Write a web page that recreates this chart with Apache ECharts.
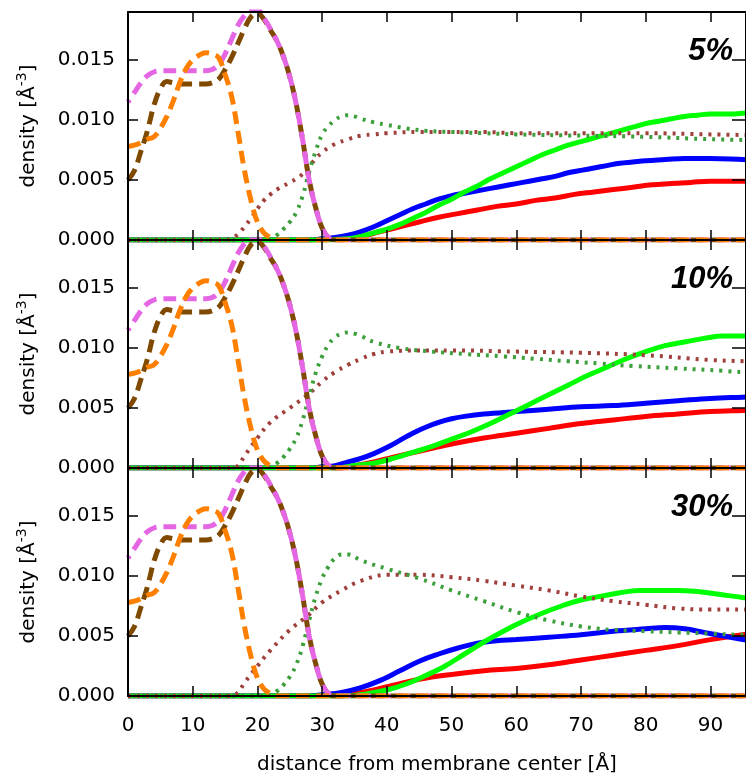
<!DOCTYPE html>
<html>
<head>
<meta charset="utf-8">
<script src="https://cdn.jsdelivr.net/npm/echarts@6/dist/echarts.min.js"></script>
<style>
  html, body { margin: 0; padding: 0; background: #ffffff; }
  #chart { width: 746px; height: 778px; }
</style>
</head>
<body>
<div id="chart"></div>
<script>
// ---- axis ranges and ticks ----
var X_MIN = 0, X_MAX = 95.5, X_STEP = 10;
var Y_MIN = 0, Y_MAX = 0.019, Y_STEP = 0.005;
var panelLabels = ['5%', '10%', '30%'];

// ---- lipid / membrane profiles (same in every panel) ----
var orangeDash = [[0,0.0078],[1,0.0079],[2,0.0081],[3,0.0084],[4,0.0086],[5,0.0093],[6,0.0103],[7,0.0116],[8,0.0131],[9,0.0143],[10,0.0150],[11,0.0154],[12,0.0156],[13,0.0155],[14,0.0152],[15,0.0138],[16,0.0120],[17,0.0090],[18,0.0058],[19,0.0033],[20,0.0015],[21,0.0006],[22,0.0002],[23,0],[40,0],[60,0],[80,0],[100,0]];
var brownDash = [[0,0.0050],[1,0.0058],[2,0.0074],[3,0.0091],[4,0.0112],[5,0.0126],[6,0.0132],[7,0.0131],[8,0.0130],[10,0.0130],[12,0.0130],[13,0.0131],[14,0.0134],[15,0.0142],[16,0.0152],[17,0.0164],[18,0.0176],[19,0.0186],[20,0.0189],[21,0.0184],[22,0.0175],[23,0.0166],[24,0.0153],[25,0.0136],[26,0.0113],[27,0.0083],[28,0.0050],[29,0.0027],[30,0.0010],[31,0.0002],[32,0],[50,0],[70,0],[100,0]];
var pinkDash = [[0,0.0115],[1,0.0123],[2,0.0131],[3,0.0137],[4,0.0140],[5,0.0141],[6,0.0141],[8,0.0141],[10,0.0141],[12,0.0141],[13,0.0142],[14,0.0146],[15,0.0155],[16,0.0167],[17,0.0179],[18,0.0187],[19,0.0192],[20,0.0192],[21,0.0185],[22,0.0176],[23,0.0166],[24,0.0153],[25,0.0136],[26,0.0113],[27,0.0083],[28,0.0050],[29,0.0027],[30,0.0010],[31,0.0002],[32,0],[50,0],[70,0],[100,0]];

// ---- 5% panel ----
var maroonDot5 = [[0,0],[15,0],[16,0.0001],[17,0.0005],[18,0.0011],[19,0.0018],[20,0.0026],[21,0.0033],[22,0.0038],[23,0.0042],[24,0.0045],[25,0.0048],[26,0.0051],[27,0.0055],[28,0.0061],[29,0.0068],[30,0.0073],[31,0.0077],[32,0.0080],[34,0.0084],[36,0.0087],[38,0.0088],[40,0.0089],[45,0.0090],[50,0.0090],[55,0.0090],[60,0.0089],[70,0.0089],[80,0.0089],[90,0.0088],[100,0.0087]];
var greenDot5 = [[0,0],[21,0],[22,0.0001],[23,0.0004],[24,0.0009],[25,0.0015],[26,0.0023],[27,0.0037],[28,0.0057],[29,0.0074],[30,0.0088],[31,0.0095],[32,0.0100],[33,0.0103],[34,0.0104],[35,0.0103],[36,0.0101],[38,0.0098],[40,0.0096],[43,0.0093],[46,0.0091],[50,0.0090],[55,0.0089],[60,0.0088],[70,0.0087],[80,0.0086],[90,0.0084],[100,0.0083]];
var blue5 = [[0,0],[28,0],[30,0.0001],[32,0.0002],[34,0.0004],[36,0.0007],[38,0.0011],[40,0.0016],[42,0.0021],[44,0.0026],[46,0.0030],[48,0.0034],[50,0.0037],[52,0.0039],[54,0.0041],[56,0.0043],[58,0.0045],[60,0.0047],[62,0.0049],[64,0.0051],[66,0.0053],[68,0.0056],[70,0.0058],[72,0.0060],[74,0.0062],[76,0.0064],[78,0.0065],[80,0.0066],[83,0.0067],[86,0.0068],[90,0.0068],[95,0.0067],[100,0.0066]];
var red5 = [[0,0],[30,0],[33,0.0001],[36,0.0003],[39,0.0007],[42,0.0011],[45,0.0015],[48,0.0019],[51,0.0022],[54,0.0025],[57,0.0028],[60,0.0030],[63,0.0033],[66,0.0035],[69,0.0038],[72,0.0040],[75,0.0042],[78,0.0044],[81,0.0046],[84,0.0047],[87,0.0048],[90,0.0049],[95,0.0049],[100,0.0049]];
var lime5 = [[0,0],[30,0],[32,0.00005],[34,0.0001],[36,0.0003],[38,0.0006],[40,0.0009],[42,0.0013],[44,0.0018],[46,0.0023],[48,0.0029],[50,0.0034],[52,0.0040],[54,0.0045],[56,0.0051],[58,0.0056],[60,0.0061],[62,0.0066],[64,0.0071],[66,0.0075],[68,0.0079],[70,0.0082],[72,0.0085],[74,0.0088],[76,0.0091],[78,0.0094],[80,0.0097],[82,0.0099],[84,0.0101],[86,0.0103],[88,0.0104],[90,0.0105],[93,0.0105],[96,0.0106],[100,0.0106]];

// ---- 10% panel ----
var maroonDot10 = [[0,0],[16,0],[17,0.0002],[18,0.0010],[20,0.0025],[22,0.0038],[25,0.0050],[28,0.0062],[30,0.0072],[32,0.0080],[34,0.0086],[36,0.0091],[38,0.0095],[40,0.0097],[45,0.0098],[50,0.0098],[60,0.0097],[70,0.0096],[80,0.0094],[90,0.0090],[95,0.0089],[100,0.0088]];
var greenDot10 = [[0,0],[21,0],[22,0.0001],[23,0.0004],[24,0.0009],[25,0.0016],[26,0.0025],[27,0.0040],[28,0.0060],[29,0.0079],[30,0.0093],[31,0.0103],[32,0.0109],[33,0.0112],[34,0.0113],[35,0.0112],[36,0.0110],[38,0.0105],[42,0.0100],[47,0.0097],[52,0.0095],[58,0.0093],[63,0.0091],[68,0.0089],[73,0.0087],[78,0.0085],[85,0.0083],[92,0.0081],[95,0.0080],[100,0.0080]];
var blue10 = [[0,0],[28,0],[30,0.0001],[32,0.0002],[34,0.0005],[36,0.0008],[38,0.0012],[40,0.0017],[42,0.0023],[44,0.0029],[46,0.0034],[48,0.0038],[50,0.0041],[52,0.0043],[55,0.0045],[60,0.0047],[65,0.0049],[70,0.0051],[75,0.0052],[80,0.0054],[85,0.0056],[90,0.0058],[95,0.0059],[100,0.0060]];
var red10 = [[0,0],[32,0],[35,0.0002],[38,0.0005],[41,0.0009],[45,0.0014],[50,0.0020],[55,0.0025],[60,0.0029],[65,0.0033],[70,0.0037],[75,0.0040],[80,0.0043],[85,0.0045],[90,0.0047],[95,0.0048],[100,0.0049]];
var lime10 = [[0,0],[32,0],[35,0.0002],[38,0.0004],[41,0.0008],[44,0.0013],[47,0.0018],[50,0.0024],[53,0.0030],[56,0.0037],[59,0.0045],[62,0.0053],[65,0.0061],[68,0.0069],[71,0.0077],[74,0.0084],[77,0.0091],[80,0.0097],[83,0.0102],[86,0.0105],[89,0.0108],[92,0.0110],[95,0.0110],[100,0.0111]];

// ---- 30% panel ----
var maroonDot30 = [[0,0],[16,0],[17,0.0003],[18,0.0011],[20,0.0025],[22,0.0038],[25,0.0055],[28,0.0068],[30,0.0078],[33,0.0088],[36,0.0096],[40,0.0101],[45,0.0101],[50,0.0099],[55,0.0096],[60,0.0092],[65,0.0088],[70,0.0083],[75,0.0079],[80,0.0076],[85,0.0073],[90,0.0072],[95,0.0072],[100,0.0072]];
var greenDot30 = [[0,0],[21,0],[22,0.0001],[23,0.0004],[24,0.0009],[25,0.0016],[26,0.0026],[27,0.0042],[28,0.0063],[29,0.0083],[30,0.0098],[31,0.0108],[32,0.0115],[33,0.0118],[34,0.0118],[36,0.0113],[40,0.0106],[45,0.0098],[50,0.0088],[55,0.0079],[60,0.0070],[65,0.0063],[70,0.0058],[75,0.0055],[80,0.0054],[85,0.0053],[90,0.0052],[95,0.0051],[100,0.0051]];
var blue30 = [[0,0],[28,0],[30,0.0001],[33,0.0003],[36,0.0007],[39,0.0013],[42,0.0021],[45,0.0029],[48,0.0035],[51,0.0040],[54,0.0044],[57,0.0046],[60,0.0047],[65,0.0049],[70,0.0051],[75,0.0054],[80,0.0056],[83,0.0057],[86,0.0056],[89,0.0053],[92,0.0050],[95,0.0047],[100,0.0044]];
var red30 = [[0,0],[32,0],[35,0.0002],[38,0.0005],[41,0.0009],[45,0.0014],[50,0.0018],[55,0.0021],[60,0.0023],[65,0.0026],[70,0.0030],[75,0.0034],[80,0.0038],[85,0.0042],[90,0.0047],[95,0.0051],[100,0.0054]];
var lime30 = [[0,0],[34,0],[37,0.0002],[40,0.0005],[43,0.0010],[46,0.0017],[49,0.0025],[52,0.0035],[55,0.0045],[58,0.0054],[61,0.0062],[64,0.0069],[67,0.0075],[70,0.0080],[73,0.0083],[76,0.0086],[79,0.0088],[82,0.0088],[85,0.0088],[88,0.0087],[91,0.0085],[95,0.0082],[100,0.0079]];

var panels = [
  { maroon: maroonDot5,  green: greenDot5,  blue: blue5,  red: red5,  lime: lime5 },
  { maroon: maroonDot10, green: greenDot10, blue: blue10, red: red10, lime: lime10 },
  { maroon: maroonDot30, green: greenDot30, blue: blue30, red: red30, lime: lime30 }
];

// ---- layout ----
var PLOT_LEFT = 128;
var PLOT_WIDTH = 620;
var PLOT_TOPS = [12, 240, 468];
var PLOT_HEIGHT = 228;
var FONT = '"DejaVu Sans", "Liberation Sans", sans-serif';

var chart = echarts.init(document.getElementById('chart'), null, { renderer: 'canvas' });

var grids = [], xAxes = [], yAxes = [], series = [], graphics = [];

var axisLineStyle = { color: '#000', width: 2 };
var tickStyle = { color: '#000', width: 1.5 };

PLOT_TOPS.forEach(function (top, i) {
  var last = i === PLOT_TOPS.length - 1;
  grids.push({ left: PLOT_LEFT, top: top, width: PLOT_WIDTH, height: PLOT_HEIGHT, containLabel: false });

  // bottom x axis (index 2i) and mirrored top axis (2i+1)
  xAxes.push({
    gridIndex: i, type: 'value', min: X_MIN, max: X_MAX, interval: X_STEP, position: 'bottom', z: 5,
    axisLine: { show: true, onZero: false, lineStyle: axisLineStyle },
    axisTick: { show: true, inside: true, length: 10, lineStyle: tickStyle },
    splitLine: { show: false },
    axisLabel: {
      show: last, margin: 20, color: '#000', fontSize: 20, fontFamily: FONT,
      showMaxLabel: false,
      formatter: function (v) { return (Math.abs(v % 10) < 1e-6) ? String(v) : ''; }
    },
    name: last ? 'distance from membrane center [Å]' : '',
    nameLocation: 'middle', nameGap: 59,
    nameTextStyle: { color: '#000', fontSize: 20, fontFamily: FONT }
  });
  xAxes.push({
    gridIndex: i, type: 'value', min: X_MIN, max: X_MAX, interval: X_STEP, position: 'top', z: 5,
    axisLine: { show: true, onZero: false, lineStyle: axisLineStyle },
    axisTick: { show: true, inside: true, length: 10, lineStyle: tickStyle },
    splitLine: { show: false },
    axisLabel: { show: false }
  });

  // left y axis (index 2i) and mirrored right axis (2i+1)
  yAxes.push({
    gridIndex: i, type: 'value', min: Y_MIN, max: Y_MAX, interval: Y_STEP, position: 'left', z: 5,
    axisLine: { show: true, onZero: false, lineStyle: axisLineStyle },
    axisTick: { show: true, inside: true, length: 10, lineStyle: tickStyle },
    splitLine: { show: false },
    axisLabel: {
      margin: 13, color: '#000', fontSize: 20, fontFamily: FONT, showMaxLabel: false,
      formatter: function (v) {
        var k = v / Y_STEP;
        return Math.abs(k - Math.round(k)) < 1e-6 ? v.toFixed(3) : '';
      }
    },
    name: '{t|density [Å}{s|-3}{t|]}',
    nameLocation: 'middle', nameGap: 85,
    nameTextStyle: {
      color: '#000',
      rich: {
        t: { fontSize: 20, fontFamily: FONT, lineHeight: 28, color: '#000' },
        s: { fontSize: 14, fontFamily: FONT, lineHeight: 14, verticalAlign: 'top', color: '#000' }
      }
    }
  });
  yAxes.push({
    gridIndex: i, type: 'value', min: Y_MIN, max: Y_MAX, interval: Y_STEP, position: 'right', z: 5,
    axisLine: { show: true, onZero: false, lineStyle: axisLineStyle },
    axisTick: { show: true, inside: true, length: 14, lineStyle: tickStyle },
    splitLine: { show: false },
    axisLabel: { show: false }
  });

  var p = panels[i];
  function line(data, color, width, dash, offset) {
    return {
      type: 'line', xAxisIndex: 2 * i, yAxisIndex: 2 * i, data: data,
      showSymbol: false, symbol: 'none', smooth: 0.4,
      animation: false, silent: true, z: 2,
      lineStyle: { color: color, width: width, type: dash || 'solid', dashOffset: offset || 0, cap: 'butt' }
    };
  }
  series.push(line(p.red, '#ff0000', 5));
  series.push(line(p.blue, '#0000ff', 5));
  series.push(line(p.lime, '#00ff00', 5));
  series.push(line(p.maroon, '#a0403c', 4, [3, 6], 0));
  series.push(line(p.green, '#3c9f3c', 4, [3, 6], 4));
  series.push(line(brownDash, '#7f4a00', 5, [13, 7], 0));
  series.push(line(pinkDash, '#e466e4', 5, [13, 7], 10));
  series.push(line(orangeDash, '#ff8000', 5, [13, 7], 0));

  graphics.push({
    type: 'text', right: 13, top: top + 24, z: 10,
    style: {
      text: panelLabels[i], fill: '#000',
      font: 'italic bold 31px "Liberation Sans", Arial, sans-serif',
      textAlign: 'right'
    }
  });
});

chart.setOption({
  animation: false,
  backgroundColor: '#ffffff',
  grid: grids,
  xAxis: xAxes,
  yAxis: yAxes,
  series: series,
  graphic: graphics
});
</script>
</body>
</html>
